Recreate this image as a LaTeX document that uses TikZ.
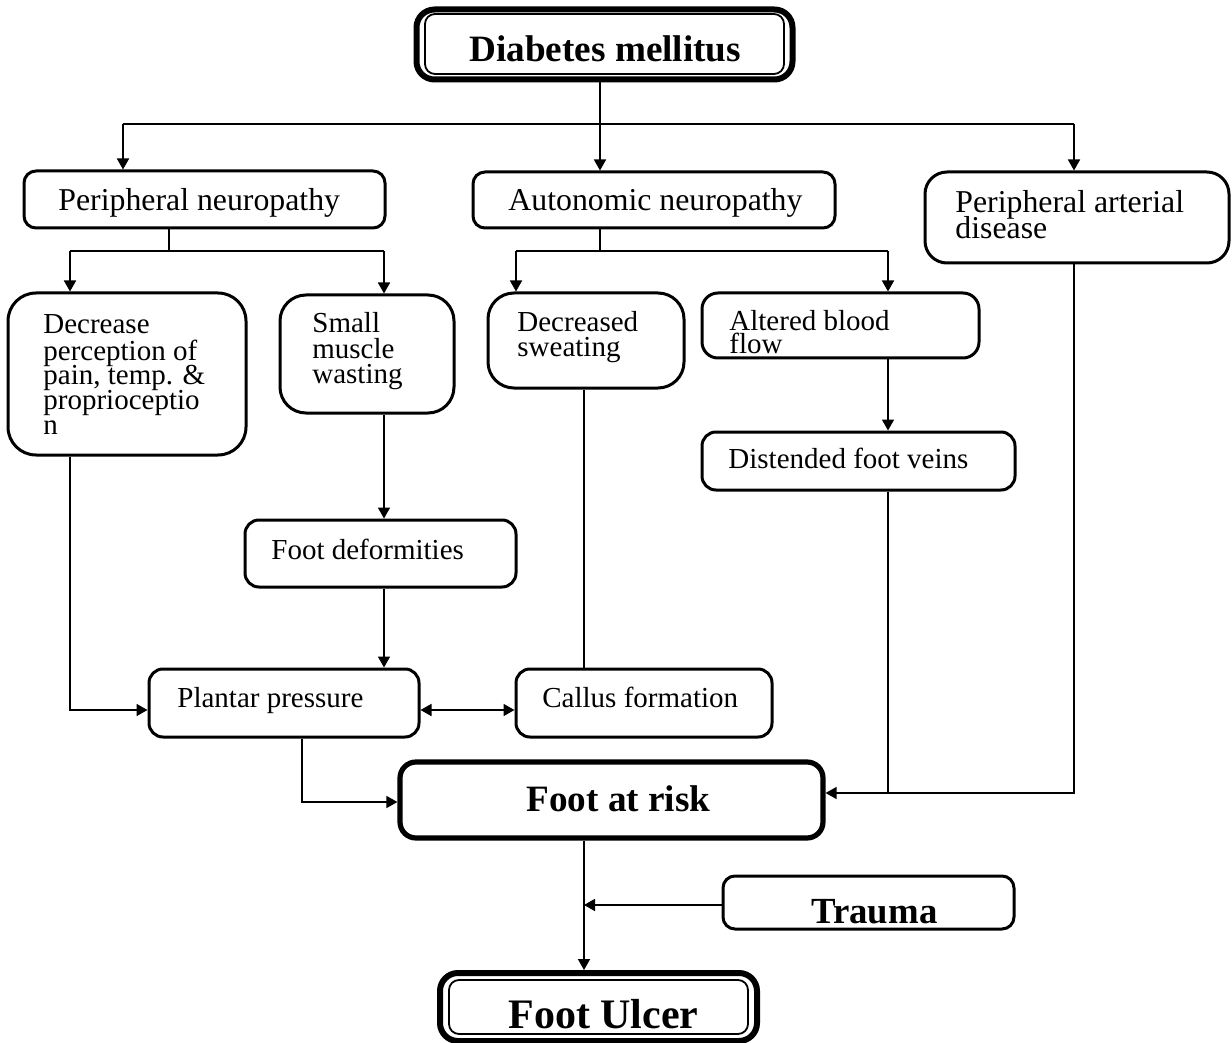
\documentclass[tikz,border=0pt]{standalone}
\usepackage{fontspec}
\setmainfont{Liberation Serif}
\usetikzlibrary{fit,arrows.meta}
\begin{document}
\begin{tikzpicture}[x=0.5pt,y=-0.5pt,
  box/.style={draw,line width=1.5pt,inner sep=0pt},
  con/.style={line width=0.8pt},
  arr/.style={con,-{Triangle[length=5.5pt,width=6pt]}},
  dbl/.style={con,{Triangle[length=5.5pt,width=6pt]}-{Triangle[length=5.5pt,width=6pt]}},
  txt/.style={inner sep=0pt,anchor=base west},
  reg/.style={txt,font=\fontsize{14.5}{17}\selectfont},
  big/.style={txt,font=\fontsize{15.9}{19}\selectfont},
  bld/.style={txt,font=\bfseries\fontsize{18.6}{22}\selectfont}]
\useasboundingbox (0,0) rectangle (1232,1043);

% ---- boxes ----
\node[box,line width=3pt,rounded corners=9pt,fit={(416.5,9.5)(792.5,79.5)}] (dm) {};
\node[box,line width=0.9pt,rounded corners=5pt,fit={(425,14)(784,74)}] (dmi) {};
\node[box,rounded corners=6pt,fit={(24,171)(385,228)}] (pn) {};
\node[box,rounded corners=6pt,fit={(473,172)(835,228)}] (an) {};
\node[box,rounded corners=11pt,fit={(925,172)(1229,263)}] (pad) {};
\node[box,rounded corners=14pt,fit={(8,293)(246,455)}] (dp) {};
\node[box,rounded corners=13pt,fit={(280,295)(454,413)}] (sm) {};
\node[box,rounded corners=13pt,fit={(488,293)(684,388)}] (ds) {};
\node[box,rounded corners=8pt,fit={(702,293)(979,358)}] (ab) {};
\node[box,rounded corners=7pt,fit={(702,432)(1015,490)}] (dfv) {};
\node[box,rounded corners=7pt,fit={(245,520)(516,587)}] (fd) {};
\node[box,rounded corners=7pt,fit={(149,669)(419,737)}] (pp) {};
\node[box,rounded corners=7pt,fit={(516,669)(772,737)}] (cf) {};
\node[box,line width=2.6pt,rounded corners=8pt,fit={(400,762)(823,838)}] (far) {};
\node[box,rounded corners=6pt,fit={(723,876)(1014,929)}] (tr) {};
\node[box,line width=3pt,rounded corners=9pt,fit={(440,973)(757,1041)}] (fu) {};
\node[box,line width=0.9pt,rounded corners=5pt,fit={(449,980)(748,1034)}] (fui) {};

% ---- texts ----
\node[bld] (dmt) at (469,62) {Diabetes mellitus};
\node[big] (pnt) at (58,211) {Peripheral neuropathy};
\node[big] (ant) at (508,211) {Autonomic neuropathy};
\node[big] (pad1) at (955,213) {Peripheral arterial};
\node[big] (pad2) at (955,239) {disease};
\node[reg] (dp1) at (43,334) {Decrease};
\node[reg] (dp2) at (43,360) {perception of};
\node[reg] (dp3) at (43,385) {pain, temp. \&};
\node[reg] (dp4) at (43,409) {proprioceptio};
\node[reg] (dp5) at (43,434) {n};
\node[reg] (sm1) at (312,333) {Small};
\node[reg] (sm2) at (312,358) {muscle};
\node[reg] (sm3) at (312,383) {wasting};
\node[reg] (ds1) at (517,332) {Decreased};
\node[reg] (ds2) at (517,357) {sweating};
\node[reg] (ab1) at (729,331) {Altered blood};
\node[reg] (ab2) at (729,354) {flow};
\node[reg] (dfvt) at (728,468) {Distended foot veins};
\node[reg] (fdt) at (271,559) {Foot deformities};
\node[reg] (ppt) at (177,707) {Plantar pressure};
\node[reg] (cft) at (542,707) {Callus formation};
\node[bld] (fart) at (526,811) {Foot at risk};
\node[bld,font=\bfseries\fontsize{18.4}{22}\selectfont] (trt) at (811,923) {Trauma};
\node[bld,font=\bfseries\fontsize{21}{25}\selectfont] (fut) at (508,1028) {Foot Ulcer};

% ---- junction coordinates ----
\coordinate (a1) at (123,124);
\coordinate (j0) at (600,124);
\coordinate (a3) at (1074,124);
\coordinate (b0) at (169,251);
\coordinate (b1) at (70,251);
\coordinate (b2) at (384,251);
\coordinate (c0) at (600,251);
\coordinate (c1) at (516,251);
\coordinate (c2) at (888,251);
\coordinate (d1) at (70,710);
\coordinate (e1) at (584,400);
\coordinate (f1) at (302,802);
\coordinate (g1) at (888,793);
\coordinate (g2) at (1074,793);
\coordinate (h1) at (584,905);

% ---- connectors ----
\draw[con] (j0 |- dm.south) -- (j0);
\draw[con] (a1) -- (a3);
\draw[arr] (a1) -- (a1 |- pn.north);
\draw[arr] (j0) -- (j0 |- an.north);
\draw[arr] (a3) -- (a3 |- pad.north);

\draw[con] (b0 |- pn.south) -- (b0);
\draw[con] (b1) -- (b2);
\draw[arr] (b1) -- (b1 |- dp.north);
\draw[arr] (b2) -- (b2 |- sm.north);

\draw[con] (c0 |- an.south) -- (c0);
\draw[con] (c1) -- (c2);
\draw[arr] (c1) -- (c1 |- ds.north);
\draw[arr] (c2) -- (c2 |- ab.north);

\draw[arr] (c2 |- ab.south) -- (c2 |- dfv.north);
\draw[arr] (b2 |- sm.south) -- (b2 |- fd.north);
\draw[arr] (b2 |- fd.south) -- (b2 |- pp.north);
\draw[arr] (b1 |- dp.south) -- (d1) -- (d1 -| pp.west);
\draw[dbl] (d1 -| pp.east) -- (d1 -| cf.west);
\draw[con] (e1 |- ds.south) -- (e1 |- cf.north);
\draw[arr] (f1 |- pp.south) -- (f1) -- (f1 -| far.west);
\draw[con] (g1 |- dfv.south) -- (g1);
\draw[arr] (a3 |- pad.south) -- (g2) -- (g2 -| far.east);
\draw[arr] (h1 |- far.south) -- (h1 |- fu.north);
\draw[arr] (h1 -| tr.west) -- (h1);
\end{tikzpicture}
\end{document}
